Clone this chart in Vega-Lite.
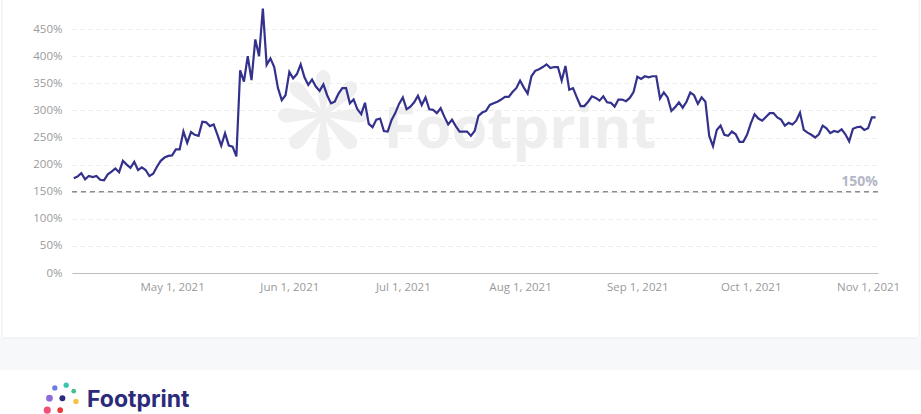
{
  "$schema": "https://vega.github.io/schema/vega-lite/v6.json",
  "width": 806,
  "height": 271,
  "autosize": {"type": "none"},
  "padding": {"left": 72, "top": 2, "right": 43, "bottom": 141},
  "background": "#ffffff",
  "config": {
    "view": {"stroke": null},
    "font": "Open Sans"
  },
  "resolve": {"axis": {"x": "independent", "y": "independent"}},
  "datasets": {
    "ratio": [
      {"d": "2021-04-05", "v": 175}, {"d": "2021-04-06", "v": 178}, {"d": "2021-04-07", "v": 184}, {"d": "2021-04-08", "v": 173},
      {"d": "2021-04-09", "v": 179}, {"d": "2021-04-10", "v": 177}, {"d": "2021-04-11", "v": 179}, {"d": "2021-04-12", "v": 172},
      {"d": "2021-04-13", "v": 171}, {"d": "2021-04-14", "v": 182}, {"d": "2021-04-15", "v": 187}, {"d": "2021-04-16", "v": 193},
      {"d": "2021-04-17", "v": 186}, {"d": "2021-04-18", "v": 207}, {"d": "2021-04-19", "v": 200}, {"d": "2021-04-20", "v": 194},
      {"d": "2021-04-21", "v": 205}, {"d": "2021-04-22", "v": 190}, {"d": "2021-04-23", "v": 195}, {"d": "2021-04-24", "v": 190},
      {"d": "2021-04-25", "v": 179}, {"d": "2021-04-26", "v": 183}, {"d": "2021-04-27", "v": 196}, {"d": "2021-04-28", "v": 207},
      {"d": "2021-04-29", "v": 213}, {"d": "2021-04-30", "v": 216},
      {"d": "2021-05-01", "v": 217}, {"d": "2021-05-02", "v": 228}, {"d": "2021-05-03", "v": 228}, {"d": "2021-05-04", "v": 261},
      {"d": "2021-05-05", "v": 240}, {"d": "2021-05-06", "v": 260}, {"d": "2021-05-07", "v": 255}, {"d": "2021-05-08", "v": 253},
      {"d": "2021-05-09", "v": 279}, {"d": "2021-05-10", "v": 278}, {"d": "2021-05-11", "v": 271}, {"d": "2021-05-12", "v": 274},
      {"d": "2021-05-13", "v": 255}, {"d": "2021-05-14", "v": 235}, {"d": "2021-05-15", "v": 258}, {"d": "2021-05-16", "v": 235},
      {"d": "2021-05-17", "v": 233}, {"d": "2021-05-18", "v": 215}, {"d": "2021-05-19", "v": 374}, {"d": "2021-05-20", "v": 353},
      {"d": "2021-05-21", "v": 400}, {"d": "2021-05-22", "v": 356}, {"d": "2021-05-23", "v": 431}, {"d": "2021-05-24", "v": 400},
      {"d": "2021-05-25", "v": 488}, {"d": "2021-05-26", "v": 384}, {"d": "2021-05-27", "v": 396}, {"d": "2021-05-28", "v": 380},
      {"d": "2021-05-29", "v": 341}, {"d": "2021-05-30", "v": 319}, {"d": "2021-05-31", "v": 328},
      {"d": "2021-06-01", "v": 371}, {"d": "2021-06-02", "v": 359}, {"d": "2021-06-03", "v": 367}, {"d": "2021-06-04", "v": 385},
      {"d": "2021-06-05", "v": 361}, {"d": "2021-06-06", "v": 347}, {"d": "2021-06-07", "v": 357}, {"d": "2021-06-08", "v": 344},
      {"d": "2021-06-09", "v": 336}, {"d": "2021-06-10", "v": 348}, {"d": "2021-06-11", "v": 328}, {"d": "2021-06-12", "v": 313},
      {"d": "2021-06-13", "v": 316}, {"d": "2021-06-14", "v": 331}, {"d": "2021-06-15", "v": 341}, {"d": "2021-06-16", "v": 341},
      {"d": "2021-06-17", "v": 313}, {"d": "2021-06-18", "v": 320}, {"d": "2021-06-19", "v": 302}, {"d": "2021-06-20", "v": 293},
      {"d": "2021-06-21", "v": 314}, {"d": "2021-06-22", "v": 275}, {"d": "2021-06-23", "v": 269}, {"d": "2021-06-24", "v": 283},
      {"d": "2021-06-25", "v": 285}, {"d": "2021-06-26", "v": 262}, {"d": "2021-06-27", "v": 261}, {"d": "2021-06-28", "v": 282},
      {"d": "2021-06-29", "v": 295}, {"d": "2021-06-30", "v": 312},
      {"d": "2021-07-01", "v": 324}, {"d": "2021-07-02", "v": 302}, {"d": "2021-07-03", "v": 307}, {"d": "2021-07-04", "v": 315},
      {"d": "2021-07-05", "v": 327}, {"d": "2021-07-06", "v": 310}, {"d": "2021-07-07", "v": 324}, {"d": "2021-07-08", "v": 302},
      {"d": "2021-07-09", "v": 301}, {"d": "2021-07-10", "v": 295}, {"d": "2021-07-11", "v": 304}, {"d": "2021-07-12", "v": 288},
      {"d": "2021-07-13", "v": 274}, {"d": "2021-07-14", "v": 283}, {"d": "2021-07-15", "v": 271}, {"d": "2021-07-16", "v": 261},
      {"d": "2021-07-17", "v": 261}, {"d": "2021-07-18", "v": 261}, {"d": "2021-07-19", "v": 253}, {"d": "2021-07-20", "v": 262},
      {"d": "2021-07-21", "v": 290}, {"d": "2021-07-22", "v": 296}, {"d": "2021-07-23", "v": 299}, {"d": "2021-07-24", "v": 310},
      {"d": "2021-07-25", "v": 313}, {"d": "2021-07-26", "v": 316}, {"d": "2021-07-27", "v": 320}, {"d": "2021-07-28", "v": 325},
      {"d": "2021-07-29", "v": 325}, {"d": "2021-07-30", "v": 334}, {"d": "2021-07-31", "v": 341},
      {"d": "2021-08-01", "v": 355}, {"d": "2021-08-02", "v": 342}, {"d": "2021-08-03", "v": 331}, {"d": "2021-08-04", "v": 363},
      {"d": "2021-08-05", "v": 373}, {"d": "2021-08-06", "v": 376}, {"d": "2021-08-07", "v": 380}, {"d": "2021-08-08", "v": 385},
      {"d": "2021-08-09", "v": 378}, {"d": "2021-08-10", "v": 380}, {"d": "2021-08-11", "v": 380}, {"d": "2021-08-12", "v": 355},
      {"d": "2021-08-13", "v": 382}, {"d": "2021-08-14", "v": 338}, {"d": "2021-08-15", "v": 341}, {"d": "2021-08-16", "v": 324},
      {"d": "2021-08-17", "v": 308}, {"d": "2021-08-18", "v": 308}, {"d": "2021-08-19", "v": 316}, {"d": "2021-08-20", "v": 326},
      {"d": "2021-08-21", "v": 323}, {"d": "2021-08-22", "v": 318}, {"d": "2021-08-23", "v": 326}, {"d": "2021-08-24", "v": 315},
      {"d": "2021-08-25", "v": 314}, {"d": "2021-08-26", "v": 307}, {"d": "2021-08-27", "v": 320}, {"d": "2021-08-28", "v": 320},
      {"d": "2021-08-29", "v": 317}, {"d": "2021-08-30", "v": 323}, {"d": "2021-08-31", "v": 334},
      {"d": "2021-09-01", "v": 362}, {"d": "2021-09-02", "v": 358}, {"d": "2021-09-03", "v": 363}, {"d": "2021-09-04", "v": 361},
      {"d": "2021-09-05", "v": 363}, {"d": "2021-09-06", "v": 363}, {"d": "2021-09-07", "v": 322}, {"d": "2021-09-08", "v": 333},
      {"d": "2021-09-09", "v": 324}, {"d": "2021-09-10", "v": 299}, {"d": "2021-09-11", "v": 306}, {"d": "2021-09-12", "v": 315},
      {"d": "2021-09-13", "v": 305}, {"d": "2021-09-14", "v": 316}, {"d": "2021-09-15", "v": 333}, {"d": "2021-09-16", "v": 328},
      {"d": "2021-09-17", "v": 312}, {"d": "2021-09-18", "v": 324}, {"d": "2021-09-19", "v": 316}, {"d": "2021-09-20", "v": 253},
      {"d": "2021-09-21", "v": 234}, {"d": "2021-09-22", "v": 264}, {"d": "2021-09-23", "v": 272}, {"d": "2021-09-24", "v": 255},
      {"d": "2021-09-25", "v": 253}, {"d": "2021-09-26", "v": 261}, {"d": "2021-09-27", "v": 256}, {"d": "2021-09-28", "v": 242},
      {"d": "2021-09-29", "v": 242}, {"d": "2021-09-30", "v": 255},
      {"d": "2021-10-01", "v": 276}, {"d": "2021-10-02", "v": 293}, {"d": "2021-10-03", "v": 285}, {"d": "2021-10-04", "v": 281},
      {"d": "2021-10-05", "v": 288}, {"d": "2021-10-06", "v": 295}, {"d": "2021-10-07", "v": 295}, {"d": "2021-10-08", "v": 287},
      {"d": "2021-10-09", "v": 283}, {"d": "2021-10-10", "v": 272}, {"d": "2021-10-11", "v": 277}, {"d": "2021-10-12", "v": 274},
      {"d": "2021-10-13", "v": 281}, {"d": "2021-10-14", "v": 296}, {"d": "2021-10-15", "v": 264}, {"d": "2021-10-16", "v": 259},
      {"d": "2021-10-17", "v": 255}, {"d": "2021-10-18", "v": 250}, {"d": "2021-10-19", "v": 256}, {"d": "2021-10-20", "v": 272},
      {"d": "2021-10-21", "v": 267}, {"d": "2021-10-22", "v": 258}, {"d": "2021-10-23", "v": 262}, {"d": "2021-10-24", "v": 260},
      {"d": "2021-10-25", "v": 265}, {"d": "2021-10-26", "v": 256}, {"d": "2021-10-27", "v": 243}, {"d": "2021-10-28", "v": 266},
      {"d": "2021-10-29", "v": 269}, {"d": "2021-10-30", "v": 270}, {"d": "2021-10-31", "v": 264},
      {"d": "2021-11-01", "v": 267}, {"d": "2021-11-02", "v": 287}, {"d": "2021-11-03", "v": 287}
    ]
  },
  "layer": [
    {
      "data": {"values": [{}]},
      "mark": {"type": "rect", "color": "#f7f8fa"},
      "encoding": {
        "x": {"datum": {"year": 2021, "month": 2, "date": 20, "utc": true}, "type": "temporal", "axis": null},
        "x2": {"datum": {"year": 2021, "month": 12, "date": 10, "utc": true}},
        "y": {"datum": -120, "type": "quantitative", "axis": null},
        "y2": {"datum": -179}
      }
    },
    {
      "data": {"values": [{}]},
      "mark": {"type": "rule", "color": "#e9eaee", "strokeWidth": 1},
      "encoding": {
        "x": {"datum": {"year": 2021, "month": 3, "date": 17, "utc": true}, "type": "temporal", "axis": null},
        "x2": {"datum": {"year": 2021, "month": 11, "date": 14, "hours": 12, "utc": true}},
        "y": {"datum": -120, "type": "quantitative", "axis": null}
      }
    },
    {
      "data": {"values": [{}]},
      "mark": {"type": "rule", "color": "#ececef", "strokeWidth": 1},
      "encoding": {
        "x": {"datum": {"year": 2021, "month": 3, "date": 17, "utc": true}, "type": "temporal", "axis": null},
        "y": {"datum": -118, "type": "quantitative", "axis": null},
        "y2": {"datum": 560}
      }
    },
    {
      "data": {"values": [{}]},
      "mark": {"type": "rule", "color": "#ececef", "strokeWidth": 1},
      "encoding": {
        "x": {"datum": {"year": 2021, "month": 11, "date": 14, "hours": 12, "utc": true}, "type": "temporal", "axis": null},
        "y": {"datum": -118, "type": "quantitative", "axis": null},
        "y2": {"datum": 560}
      }
    },
    {
      "data": {"values": [{}]},
      "mark": {"type": "text", "text": "❋", "font": "DejaVu Sans", "fontSize": 120, "color": "#efefef", "align": "center", "baseline": "middle"},
      "encoding": {
        "x": {"datum": {"year": 2021, "month": 6, "date": 10, "utc": true}, "type": "temporal", "axis": null},
        "y": {"datum": 277, "type": "quantitative", "axis": null}
      }
    },
    {
      "data": {"values": [{}]},
      "mark": {"type": "text", "text": "Footprint", "font": "Open Sans", "fontWeight": "bold", "fontSize": 58, "color": "#eeeeee", "align": "center", "baseline": "middle"},
      "encoding": {
        "x": {"datum": {"year": 2021, "month": 8, "date": 1, "utc": true}, "type": "temporal", "axis": null},
        "y": {"datum": 262, "type": "quantitative", "axis": null}
      }
    },
    {
      "data": {"values": [{}]},
      "mark": {"type": "rule", "color": "#8c8c8c", "strokeWidth": 1.5, "strokeDash": [5, 4]},
      "encoding": {
        "y": {"datum": 150, "type": "quantitative", "axis": null}
      }
    },
    {
      "data": {"name": "ratio", "format": {"parse": {"d": "utc:'%Y-%m-%d'"}}},
      "mark": {"type": "line", "color": "#33318c", "strokeWidth": 2.2, "interpolate": "linear"},
      "encoding": {
        "x": {
          "field": "d",
          "type": "temporal",
          "title": null,
          "scale": {
            "type": "utc",
            "domain": [
              {"year": 2021, "month": 4, "date": 4, "hours": 13, "utc": true},
              {"year": 2021, "month": 11, "date": 3, "hours": 15, "utc": true}
            ]
          },
          "axis": {
            "values": [
              {"year": 2021, "month": 5, "date": 1, "utc": true},
              {"year": 2021, "month": 6, "date": 1, "utc": true},
              {"year": 2021, "month": 7, "date": 1, "utc": true},
              {"year": 2021, "month": 8, "date": 1, "utc": true},
              {"year": 2021, "month": 9, "date": 1, "utc": true},
              {"year": 2021, "month": 10, "date": 1, "utc": true},
              {"year": 2021, "month": 11, "date": 1, "utc": true}
            ],
            "labelExpr": "utcFormat(datum.value, '%b %-d, %Y')",
            "grid": false,
            "ticks": false,
            "domain": true,
            "domainColor": "#bdbdbd",
            "domainWidth": 1,
            "labelColor": "#9a9a9a",
            "labelFont": "Open Sans",
            "labelFontSize": 11.5,
            "labelPadding": 8,
            "labelFlush": false,
            "labelOverlap": false
          }
        },
        "y": {
          "field": "v",
          "type": "quantitative",
          "title": null,
          "scale": {"domain": [0, 500], "nice": false, "zero": true},
          "axis": {
            "values": [0, 50, 100, 150, 200, 250, 300, 350, 400, 450],
            "labelExpr": "datum.value + '%'",
            "domain": false,
            "ticks": false,
            "grid": true,
            "gridColor": "#ebebeb",
            "gridDash": [4, 4],
            "gridWidth": 1,
            "labelColor": "#9a9a9a",
            "labelFont": "Open Sans",
            "labelFontSize": 11.5,
            "labelPadding": 10
          }
        }
      }
    },
    {
      "data": {"values": [{}]},
      "mark": {"type": "text", "text": "150%", "font": "Open Sans", "fontWeight": "bold", "fontSize": 14, "color": "#b4b7c6", "align": "right", "baseline": "bottom", "dy": -3},
      "encoding": {
        "x": {"datum": {"year": 2021, "month": 11, "date": 3, "hours": 15, "utc": true}, "type": "temporal", "axis": null},
        "y": {"datum": 150, "type": "quantitative", "axis": null}
      }
    },
    {
      "data": {"values": [{}]},
      "mark": {"type": "text", "text": "Footprint", "font": "Inter", "fontWeight": "bold", "fontSize": 23, "color": "#2c2a7a", "align": "left", "baseline": "middle"},
      "encoding": {
        "x": {"datum": {"year": 2021, "month": 4, "date": 8, "hours": 12, "utc": true}, "type": "temporal", "axis": null},
        "y": {"datum": -235, "type": "quantitative", "axis": null}
      }
    },
    {
      "data": {"values": [{}]},
      "mark": {"type": "point", "filled": true, "shape": "circle", "size": 35, "color": "#2c2a7a", "opacity": 1},
      "encoding": {
        "x": {"datum": {"year": 2021, "month": 4, "date": 2, "utc": true}, "type": "temporal", "axis": null},
        "y": {"datum": -231, "type": "quantitative", "axis": null}
      }
    },
    {
      "data": {"values": [{}]},
      "mark": {"type": "point", "filled": true, "shape": "circle", "size": 45, "color": "#8e6bd8", "opacity": 1},
      "encoding": {
        "x": {"datum": {"year": 2021, "month": 3, "date": 29, "hours": 14, "utc": true}, "type": "temporal", "axis": null},
        "y": {"datum": -231, "type": "quantitative", "axis": null}
      }
    },
    {
      "data": {"values": [{}]},
      "mark": {"type": "point", "filled": true, "shape": "circle", "size": 28, "color": "#6a7de0", "opacity": 1},
      "encoding": {
        "x": {"datum": {"year": 2021, "month": 3, "date": 31, "utc": true}, "type": "temporal", "axis": null},
        "y": {"datum": -212, "type": "quantitative", "axis": null}
      }
    },
    {
      "data": {"values": [{}]},
      "mark": {"type": "point", "filled": true, "shape": "circle", "size": 28, "color": "#3cc3b4", "opacity": 1},
      "encoding": {
        "x": {"datum": {"year": 2021, "month": 4, "date": 3, "utc": true}, "type": "temporal", "axis": null},
        "y": {"datum": -207, "type": "quantitative", "axis": null}
      }
    },
    {
      "data": {"values": [{}]},
      "mark": {"type": "point", "filled": true, "shape": "circle", "size": 22, "color": "#44c08a", "opacity": 1},
      "encoding": {
        "x": {"datum": {"year": 2021, "month": 4, "date": 5, "utc": true}, "type": "temporal", "axis": null},
        "y": {"datum": -218, "type": "quantitative", "axis": null}
      }
    },
    {
      "data": {"values": [{}]},
      "mark": {"type": "point", "filled": true, "shape": "circle", "size": 28, "color": "#f5c242", "opacity": 1},
      "encoding": {
        "x": {"datum": {"year": 2021, "month": 4, "date": 5, "hours": 14, "utc": true}, "type": "temporal", "axis": null},
        "y": {"datum": -237, "type": "quantitative", "axis": null}
      }
    },
    {
      "data": {"values": [{}]},
      "mark": {"type": "point", "filled": true, "shape": "circle", "size": 50, "color": "#f0507a", "opacity": 1},
      "encoding": {
        "x": {"datum": {"year": 2021, "month": 3, "date": 29, "utc": true}, "type": "temporal", "axis": null},
        "y": {"datum": -253, "type": "quantitative", "axis": null}
      }
    },
    {
      "data": {"values": [{}]},
      "mark": {"type": "point", "filled": true, "shape": "circle", "size": 32, "color": "#e83a3a", "opacity": 1},
      "encoding": {
        "x": {"datum": {"year": 2021, "month": 4, "date": 1, "hours": 10, "utc": true}, "type": "temporal", "axis": null},
        "y": {"datum": -253, "type": "quantitative", "axis": null}
      }
    }
  ]
}
